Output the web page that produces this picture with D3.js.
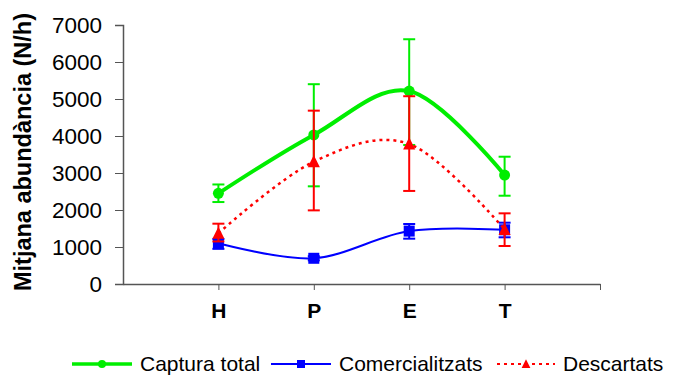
<!DOCTYPE html>
<html>
<head>
<meta charset="utf-8">
<script src="https://cdn.jsdelivr.net/npm/d3@7"></script>
<style>
  body { margin: 0; background: #fff; }
  text { font-family: "Liberation Sans", Arial, sans-serif; }
</style>
</head>
<body>
<script>
// categories (season)
const categories = ["H", "P", "E", "T"];
const yTicks = [0, 1000, 2000, 3000, 4000, 5000, 6000, 7000];

// Captura total
const capturaMean = [2450, 4030, 5215, 2945];
const capturaLow  = [2215, 2640, 3757, 2386];
const capturaHigh = [2690, 5400, 6615, 3440];

// Comercialitzats
const comerMean = [1100, 695, 1430, 1465];
const comerLow  = [950, 640, 1225, 1262];
const comerHigh = [1215, 750, 1622, 1657];

// Descartats
const descMean = [1370, 3305, 3785, 1475];
const descLow  = [1150, 1990, 2515, 1027];
const descHigh = [1630, 4685, 5075, 1910];

const width = 673, height = 375;

const svg = d3.select("body").append("svg")
    .attr("width", width)
    .attr("height", height);

const x = d3.scaleLinear().domain([0, 5]).range([123, 600]);
const y = d3.scaleLinear().domain([0, 7000]).range([284, 25]);

// y axis
const yAxis = svg.append("g")
    .attr("transform", "translate(123,0)")
    .call(d3.axisLeft(y).tickValues(yTicks).tickSize(8).tickPadding(13).tickFormat(d3.format("d")));
yAxis.select(".domain").attr("stroke", "#555").attr("stroke-width", 1.5);
yAxis.selectAll(".tick line").attr("stroke", "#555");
yAxis.selectAll("text").attr("font-size", 22.5).attr("fill", "#000")
    .attr("font-family", "Liberation Sans, Arial, sans-serif");

// x axis
const xAxis = svg.append("g")
    .attr("transform", "translate(0,284)")
    .call(d3.axisBottom(x).tickValues([1, 2, 3, 4, 5]).tickSize(6).tickPadding(13)
        .tickSizeOuter(0)
        .tickFormat(d => categories[d - 1] || ""));
xAxis.select(".domain").attr("stroke", "#555").attr("stroke-width", 1.5);
xAxis.selectAll(".tick line").attr("stroke", "#555");
xAxis.selectAll("text").attr("font-size", 21).attr("font-weight", "bold").attr("fill", "#000")
    .attr("font-family", "Liberation Sans, Arial, sans-serif");

// y title
svg.append("text")
    .attr("transform", "translate(31,152) rotate(-90)")
    .attr("text-anchor", "middle")
    .attr("font-size", 23.5)
    .attr("font-weight", "bold")
    .text("Mitjana abundància (N/h)");

const series = [
  {name: "Captura total", mean: capturaMean, low: capturaLow, high: capturaHigh,
   color: "#00ee00", width: 4, dash: null, marker: "circle"},
  {name: "Comercialitzats", mean: comerMean, low: comerLow, high: comerHigh,
   color: "#0000ff", width: 2, dash: null, marker: "square"},
  {name: "Descartats", mean: descMean, low: descLow, high: descHigh,
   color: "#ff0000", width: 2.5, dash: "3,4", marker: "triangle"}
];

const line = d3.line()
    .x((d, i) => x(i + 1))
    .y(d => y(d))
    .curve(d3.curveCardinal.tension(0));

function drawMarker(g, type, cx, cy, s, color) {
  if (type === "circle") {
    g.append("circle").attr("cx", cx).attr("cy", cy).attr("r", s / 2).attr("fill", color);
  } else if (type === "square") {
    g.append("rect").attr("x", cx - s / 2).attr("y", cy - s / 2)
      .attr("width", s).attr("height", s).attr("fill", color);
  } else {
    g.append("path")
      .attr("d", `M${cx},${cy - s * 0.6}L${cx + s * 0.55},${cy + s * 0.5}L${cx - s * 0.55},${cy + s * 0.5}Z`)
      .attr("fill", color);
  }
}

series.forEach(s => {
  const g = svg.append("g");
  g.append("path")
    .datum(s.mean)
    .attr("d", line)
    .attr("fill", "none")
    .attr("stroke", s.color)
    .attr("stroke-width", s.width)
    .attr("stroke-dasharray", s.dash);

  s.mean.forEach((v, i) => {
    const cx = x(i + 1);
    g.append("line")
      .attr("x1", cx).attr("x2", cx)
      .attr("y1", y(s.low[i])).attr("y2", y(s.high[i]))
      .attr("stroke", s.color).attr("stroke-width", 2);
    [s.low[i], s.high[i]].forEach(e => {
      g.append("line")
        .attr("x1", cx - 6).attr("x2", cx + 6)
        .attr("y1", y(e)).attr("y2", y(e))
        .attr("stroke", s.color).attr("stroke-width", 2);
    });
    drawMarker(g, s.marker, cx, y(v), 11, s.color);
  });
});

// legend
const legendX = [72, 271, 497];
series.forEach((s, i) => {
  const g = svg.append("g").attr("transform", `translate(${legendX[i]},364)`);
  g.append("line").attr("x1", 0).attr("x2", i === 2 ? 58 : 60).attr("y1", 0).attr("y2", 0)
    .attr("stroke", s.color)
    .attr("stroke-width", i === 0 ? 3.5 : 2)
    .attr("stroke-dasharray", s.dash);
  drawMarker(g, s.marker, i === 2 ? 29 : 30, 0, 8, s.color);
  g.append("text")
    .attr("x", i === 2 ? 66 : 68)
    .attr("y", 7)
    .attr("font-size", 21)
    .text(s.name);
});
</script>
</body>
</html>
